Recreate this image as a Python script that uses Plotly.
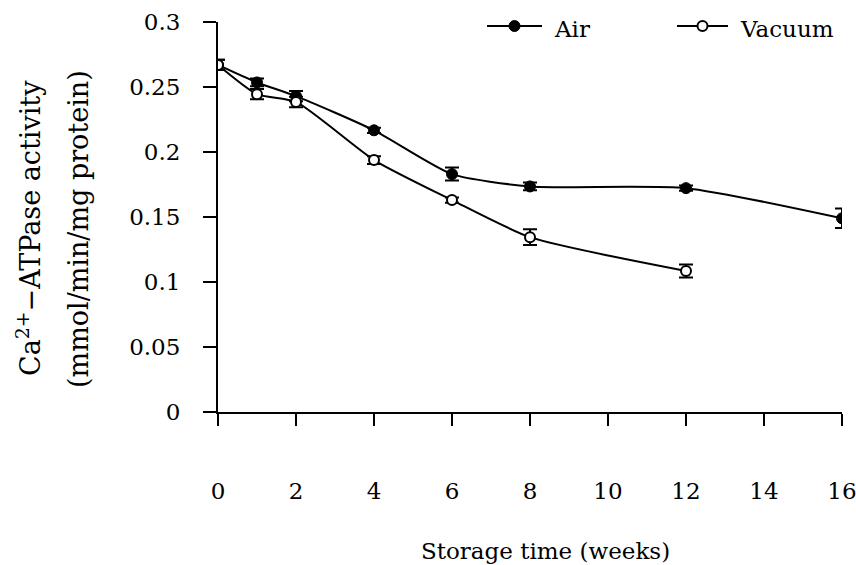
import plotly.graph_objects as go

weeks_air = [0, 1, 2, 4, 6, 8, 12, 16]
air = [0.267, 0.2535, 0.243, 0.2167, 0.183, 0.1735, 0.1722, 0.149]
air_err = [0.004, 0.003, 0.004, 0.002, 0.005, 0.003, 0.002, 0.0075]

weeks_vac = [0, 1, 2, 4, 6, 8, 12]
vac = [0.267, 0.2445, 0.2385, 0.1938, 0.163, 0.1345, 0.1085]
vac_err = [0.004, 0.004, 0.004, 0.003, 0.002, 0.006, 0.005]

x_ticks = [0, 2, 4, 6, 8, 10, 12, 14, 16]
y_ticks = [0, 0.05, 0.1, 0.15, 0.2, 0.25, 0.3]
y_ticktext = ["0", "0.05", "0.1", "0.15", "0.2", "0.25", "0.3"]

FONT = "DejaVu Serif"

# plot area geometry (pixels)
L, R, T, B = 218, 14, 22, 153
W, H = 856, 565
PW, PH = W - L - R, H - T - B


def px_x(p):
    return (p - L) / PW


def px_y(p):
    return (H - B - p) / PH


fig = go.Figure()
fig.add_trace(go.Scatter(
    x=weeks_air, y=air, name="Air", mode="lines+markers", showlegend=False,
    line=dict(color="black", width=2, shape="spline", smoothing=0.6),
    marker=dict(symbol="circle", size=11, color="black", line=dict(color="black", width=1)),
    error_y=dict(type="data", array=air_err, visible=True, color="black", thickness=2, width=7),
))
fig.add_trace(go.Scatter(
    x=weeks_vac, y=vac, name="Vacuum", mode="lines+markers", showlegend=False,
    line=dict(color="black", width=2, shape="spline", smoothing=0.6),
    marker=dict(symbol="circle", size=10, color="white", line=dict(color="black", width=2)),
    error_y=dict(type="data", array=vac_err, visible=True, color="black", thickness=2, width=7),
))

fig.update_layout(
    width=W, height=H,
    margin=dict(l=L, r=R, t=T, b=B, autoexpand=False),
    plot_bgcolor="white", paper_bgcolor="white",
    font=dict(family=FONT, size=22, color="black"),
    showlegend=False,
    xaxis=dict(range=[0, 16], tickvals=x_ticks, ticktext=[str(v) for v in x_ticks],
               showgrid=False, zeroline=False, showline=True, linecolor="black", linewidth=2,
               ticks="outside", ticklen=12, tickwidth=1.5, tickcolor="black",
               ticklabelstandoff=45, ticklabeloverflow="allow", automargin=False,
               tickfont=dict(size=23, family=FONT)),
    yaxis=dict(range=[0, 0.3], tickvals=y_ticks, ticktext=y_ticktext,
               showgrid=False, zeroline=False, showline=True, linecolor="black", linewidth=2,
               ticks="outside", ticklen=13, tickwidth=1.5, tickcolor="black",
               ticklabelstandoff=18, ticklabeloverflow="allow", automargin=False,
               tickfont=dict(size=23, family=FONT)),
)

# x-axis title
fig.add_annotation(
    text="Storage time (weeks)",
    xref="paper", yref="paper", x=px_x(545), y=px_y(551), xanchor="center", yanchor="middle",
    showarrow=False, font=dict(size=23, family=FONT),
)

# y-axis title, two rotated lines
fig.add_annotation(
    text="Ca<sup>2+</sup>−ATPase activity",
    xref="paper", yref="paper", x=px_x(28), y=px_y(228), xanchor="center", yanchor="middle",
    textangle=-90, showarrow=False, font=dict(size=27, family=FONT),
)
fig.add_annotation(
    text="(mmol/min/mg protein)",
    xref="paper", yref="paper", x=px_x(78), y=px_y(229), xanchor="center", yanchor="middle",
    textangle=-90, showarrow=False, font=dict(size=27, family=FONT),
)

# legend (drawn manually to match the long symbol lines)
legend_items = [
    ("Air", 487, 542, "black", 11, 1),
    ("Vacuum", 677, 728, "white", 10, 2),
]
ly = 26
for name, x0, x1, fill, msize, mlw in legend_items:
    fig.add_shape(type="line", xref="paper", yref="paper",
                  x0=px_x(x0), x1=px_x(x1), y0=px_y(ly), y1=px_y(ly),
                  line=dict(color="black", width=2))
    r = msize / 2
    cx = (x0 + x1) / 2
    fig.add_shape(type="circle", xref="paper", yref="paper",
                  x0=px_x(cx - r), x1=px_x(cx + r), y0=px_y(ly - r), y1=px_y(ly + r),
                  fillcolor=fill, line=dict(color="black", width=mlw))
    fig.add_annotation(text=name, xref="paper", yref="paper",
                       x=px_x(x1 + 10), y=px_y(ly + 3), xanchor="left", yanchor="middle",
                       showarrow=False, font=dict(size=23, family=FONT))

fig.write_html("out.html")
